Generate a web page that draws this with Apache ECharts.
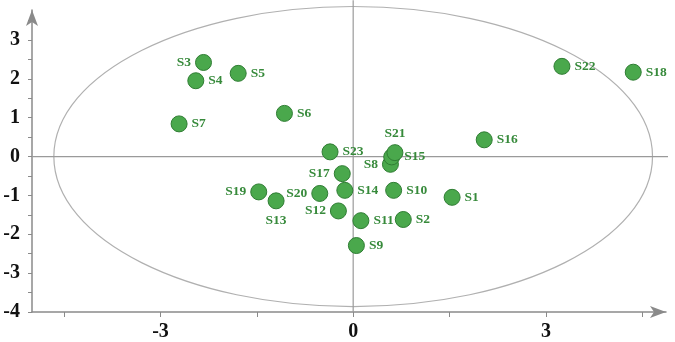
<!DOCTYPE html>
<html>
<head>
<meta charset="utf-8">
<script src="https://cdn.jsdelivr.net/npm/echarts@6/dist/echarts.min.js"></script>
<style>
  html, body { margin: 0; padding: 0; background: #fff; }
  #chart { width: 675px; height: 342px; }
</style>
</head>
<body>
<div id="chart"></div>
<script>
/* score plot with confidence ellipse */
const names = ['S1','S2','S3','S4','S5','S6','S7','S8','S9','S10','S11','S12','S13','S14','S15','S16','S17','S18','S19','S20','S21','S22','S23'];
const xs = [1.54, 0.78, -2.33, -2.45, -1.79, -1.07, -2.71, 0.58, 0.05, 0.63, 0.12, -0.23, -1.20, -0.13, 0.60, 2.04, -0.17, 4.36, -1.47, -0.52, 0.65, 3.25, -0.36];
const ys = [-1.05, -1.62, 2.42, 1.95, 2.14, 1.11, 0.84, -0.20, -2.29, -0.87, -1.65, -1.40, -1.14, -0.87, -0.01, 0.43, -0.44, 2.17, -0.91, -0.95, 0.10, 2.32, 0.12];
const labelPos = ['right','right','left','right','right','right','right','left','right','right','right','left','bottom','right','right','right','left','right','left','left','top','right','right'];

const xTicks = [-4.5, -3, -1.5, 0, 1.5, 3, 4.5];
const xLabels = [-3, 0, 3];
const yTicks = [-4, -3.5, -3, -2.5, -2, -1.5, -1, -0.5, 0, 0.5, 1, 1.5, 2, 2.5, 3, 3.5];
const yLabels = [-4, -3, -2, -1, 0, 1, 2, 3];

const ellipse = [[0, 0, 4.66, 3.86]]; // center x, center y, radius x, radius y
const vLine = [[0, -4], [0, 4.02]];
const hLine = [[-5, 0], [5.0, 0]];

const chart = echarts.init(document.getElementById('chart'));

const axisGray = '#8a8a8a';
const labelFont = { fontFamily: 'Liberation Serif', fontWeight: 'bold', fontSize: 20, color: '#111' };

chart.setOption({
  animation: false,
  backgroundColor: '#fff',
  grid: { left: 32, right: 9, top: 10, bottom: 30 },
  xAxis: {
    type: 'value', min: -5, max: 4.87,
    splitLine: { show: false },
    axisLine: { onZero: false, symbol: ['none', 'arrow'], symbolSize: [9, 16], lineStyle: { color: axisGray, width: 1.5 } },
    axisTick: { customValues: xTicks, length: 5, lineStyle: { color: axisGray } },
    axisLabel: Object.assign({ customValues: xLabels, margin: 10 }, labelFont),
  },
  yAxis: {
    type: 'value', min: -4, max: 3.77,
    splitLine: { show: false },
    axisLine: { onZero: false, symbol: ['none', 'arrow'], symbolSize: [9, 16], lineStyle: { color: axisGray, width: 1.5 } },
    axisTick: { customValues: yTicks, length: 4, lineStyle: { color: axisGray } },
    axisLabel: Object.assign({ customValues: yLabels, margin: 12 }, labelFont),
  },
  series: [
    {
      type: 'custom',
      data: ellipse,
      clip: false,
      z: 1,
      silent: true,
      renderItem: (params, api) => {
        const c = api.coord([api.value(0), api.value(1)]);
        const s = api.size([api.value(2), api.value(3)]);
        return {
          type: 'ellipse',
          shape: { cx: c[0], cy: c[1], rx: s[0], ry: s[1] },
          style: { fill: 'none', stroke: '#b0b0b0', lineWidth: 1.2 },
        };
      },
    },
    { type: 'line', data: vLine, clip: false, symbol: 'none', silent: true, z: 2, lineStyle: { color: '#9a9a9a', width: 1.2 } },
    { type: 'line', data: hLine, clip: false, symbol: 'none', silent: true, z: 2, lineStyle: { color: '#9a9a9a', width: 1.2 } },
    {
      type: 'scatter',
      z: 5,
      symbolSize: 16,
      itemStyle: { color: '#4aa84c', borderColor: '#2f7d33', borderWidth: 1, opacity: 1 },
      label: {
        show: true,
        distance: 4,
        fontFamily: 'Liberation Serif',
        fontWeight: 'bold',
        fontSize: 13.5,
        color: '#378a3b',
      },
      data: names.map((n, i) => ({
        name: n,
        value: [xs[i], ys[i]],
        label: { position: labelPos[i], formatter: n },
      })),
    },
  ],
});
</script>
</body>
</html>
